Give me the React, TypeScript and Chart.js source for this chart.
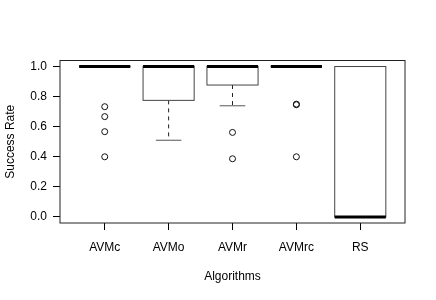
import React, { useEffect, useRef } from "react";
import { Chart, registerables } from "chart.js";

Chart.register(...registerables);

const categories = ["AVMc", "AVMo", "AVMr", "AVMrc", "RS"];
const lowerWhisker = [1.0, 0.51, 0.739, 1.0, 0.0];
const q1 = [1.0, 0.775, 0.877, 1.0, 0.0];
const median = [1.0, 1.0, 1.0, 1.0, 0.0];
const q3 = [1.0, 1.0, 1.0, 1.0, 1.0];
const upperWhisker = [1.0, 1.0, 1.0, 1.0, 1.0];
const outliers: number[][] = [
  [0.733, 0.667, 0.567, 0.4],
  [],
  [0.562, 0.387],
  [0.75, 0.746, 0.4],
  [],
];
const yTicks = [0, 0.2, 0.4, 0.6, 0.8, 1.0];

const FONT = "'Liberation Sans', Arial, Helvetica, sans-serif";

const boxPlugin = {
  id: "boxplotDraw",
  beforeDatasetsDraw(chart: any) {
    const { ctx, scales } = chart;
    const x = scales.x;
    const y = scales.y;
    const half = x.getPixelForValue(1.4) - x.getPixelForValue(1);
    const stapleHalf = half / 2;
    ctx.save();
    categories.forEach((_, i) => {
      const cx = x.getPixelForValue(i + 1);
      const yq1 = y.getPixelForValue(q1[i]);
      const yq3 = y.getPixelForValue(q3[i]);
      const ylo = y.getPixelForValue(lowerWhisker[i]);
      const yhi = y.getPixelForValue(upperWhisker[i]);
      const ymed = y.getPixelForValue(median[i]);
      // whiskers
      ctx.strokeStyle = "#222";
      ctx.lineWidth = 1;
      ctx.setLineDash([4, 4]);
      ctx.beginPath();
      ctx.moveTo(cx, yq1);
      ctx.lineTo(cx, ylo);
      ctx.moveTo(cx, yq3);
      ctx.lineTo(cx, yhi);
      ctx.stroke();
      ctx.setLineDash([]);
      // staples
      ctx.strokeStyle = "#555";
      ctx.beginPath();
      ctx.moveTo(cx - stapleHalf, ylo);
      ctx.lineTo(cx + stapleHalf, ylo);
      ctx.moveTo(cx - stapleHalf, yhi);
      ctx.lineTo(cx + stapleHalf, yhi);
      ctx.stroke();
      // box
      ctx.fillStyle = "#ffffff";
      ctx.strokeStyle = "#444";
      ctx.lineWidth = 1;
      ctx.fillRect(cx - half, yq3, half * 2, yq1 - yq3);
      ctx.strokeRect(cx - half, yq3, half * 2, yq1 - yq3);
      // median
      ctx.strokeStyle = "#000";
      ctx.lineWidth = 3;
      ctx.beginPath();
      ctx.moveTo(cx - half, ymed);
      ctx.lineTo(cx + half, ymed);
      ctx.stroke();
    });
    ctx.restore();
  },
  afterDraw(chart: any) {
    const { ctx, chartArea } = chart;
    ctx.save();
    ctx.strokeStyle = "#222";
    ctx.lineWidth = 1;
    ctx.strokeRect(
      chartArea.left,
      chartArea.top,
      chartArea.right - chartArea.left,
      chartArea.bottom - chartArea.top
    );
    ctx.restore();
  },
};

export default function App() {
  const ref = useRef<HTMLCanvasElement | null>(null);
  useEffect(() => {
    if (!ref.current) return;
    const points: { x: number; y: number }[] = [];
    outliers.forEach((arr, i) => arr.forEach((v) => points.push({ x: i + 1, y: v })));
    const chart = new Chart(ref.current, {
      type: "scatter",
      data: {
        datasets: [
          {
            data: points,
            pointRadius: 3,
            pointHoverRadius: 3,
            pointBorderWidth: 1,
            borderColor: "#111",
            backgroundColor: "rgba(0,0,0,0)",
            pointBackgroundColor: "rgba(0,0,0,0)",
          },
        ],
      },
      options: {
        responsive: false,
        animation: false,
        events: [],
        layout: { padding: { top: 60.5, right: 31, left: 0, bottom: 0 } },
        plugins: { legend: { display: false }, tooltip: { enabled: false } },
        scales: {
          x: {
            type: "linear",
            min: 0.3,
            max: 5.7,
            afterBuildTicks: (s: any) => {
              s.ticks = categories.map((_, i) => ({ value: i + 1 }));
            },
            afterFit: (s: any) => {
              s.height = 77;
            },
            ticks: {
              callback: (v: any) => categories[Number(v) - 1] ?? "",
              color: "#000",
              font: { family: FONT, size: 12 },
              padding: 10,
              maxRotation: 0,
              autoSkip: false,
            },
            grid: {
              display: true,
              drawOnChartArea: false,
              drawTicks: true,
              tickLength: 7,
              color: "#000",
            },
            border: { display: false },
            title: {
              display: true,
              text: "Algorithms",
              color: "#000",
              font: { family: FONT, size: 12 },
              padding: { top: 0, bottom: 16 },
            },
          },
          y: {
            type: "linear",
            min: -0.04,
            max: 1.04,
            afterBuildTicks: (s: any) => {
              s.ticks = yTicks.map((v) => ({ value: v }));
            },
            afterFit: (s: any) => {
              s.width = 60;
            },
            ticks: {
              callback: (v: any) => Number(v).toFixed(1),
              color: "#000",
              font: { family: FONT, size: 12 },
              padding: 6,
            },
            grid: {
              display: true,
              drawOnChartArea: false,
              drawTicks: true,
              tickLength: 7,
              color: "#000",
            },
            border: { display: false },
            title: {
              display: true,
              text: "Success Rate",
              color: "#000",
              font: { family: FONT, size: 12 },
              padding: { top: 3, bottom: 0 },
            },
          },
        },
      },
      plugins: [boxPlugin],
    });
    return () => chart.destroy();
  }, []);
  return (
    <div style={{ position: "absolute", left: 0, top: 0, width: 436, height: 300, background: "#fff" }}>
      <canvas ref={ref} width={436} height={300} style={{ width: 436, height: 300 }} />
    </div>
  );
}
